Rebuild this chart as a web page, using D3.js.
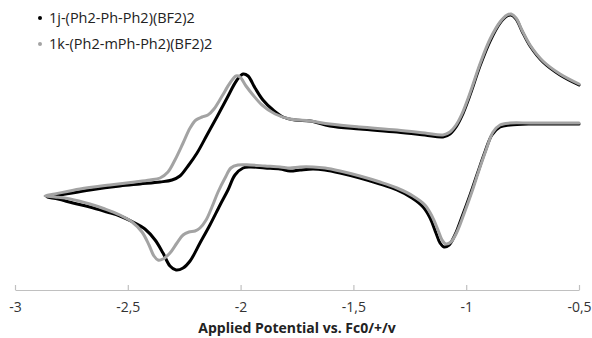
<!DOCTYPE html>
<html><head><meta charset="utf-8">
<script src="https://cdn.jsdelivr.net/npm/d3@7"></script>
<style>html,body{margin:0;padding:0;background:#fff}svg{display:block}</style>
</head><body>
<script>
const seriesNames = ["1j-(Ph2-Ph-Ph2)(BF2)2", "1k-(Ph2-mPh-Ph2)(BF2)2"];
const seriesColors = ["#000000", "#a3a3a3"];
const tickValues = [-3, -2.5, -2, -1.5, -1, -0.5];
const tickLabels = ["-3", "-2,5", "-2", "-1,5", "-1", "-0,5"];
const xTitle = "Applied Potential vs. Fc0/+/v";

// potential (V) and current (arbitrary units), series 1j
const pot1j = [-0.5,-0.606,-0.717,-0.806,-0.850,-0.886,-0.917,-0.948,-0.983,-1.019,-1.050,-1.076,-1.098,-1.116,-1.134,-1.160,-1.191,-1.240,-1.307,-1.382,-1.471,-1.559,-1.626,-1.679,-1.737,-1.781,-1.825,-1.892,-1.958,-1.989,-2.025,-2.056,-2.091,-2.136,-2.180,-2.224,-2.255,-2.286,-2.313,-2.344,-2.379,-2.424,-2.477,-2.535,-2.592,-2.668,-2.743,-2.809,-2.858,
 -2.801,-2.668,-2.535,-2.446,-2.357,-2.304,-2.269,-2.233,-2.193,-2.149,-2.105,-2.060,-2.016,-1.989,-1.967,-1.936,-1.901,-1.856,-1.812,-1.759,-1.692,-1.604,-1.471,-1.307,-1.183,-1.103,-1.072,-1.045,-1.019,-0.983,-0.939,-0.894,-0.850,-0.819,-0.801,-0.779,-0.753,-0.717,-0.660,-0.584,-0.5];
const cur1j = [7.6,7.6,7.6,7.5,7.3,6.5,4.8,2.8,0.5,-1.7,-3.5,-4.5,-4.7,-4.3,-3.3,-1.8,-0.7,0.2,1.0,1.6,2.2,2.7,3.0,3.1,3.0,2.9,3.1,3.2,3.3,3.2,2.5,1.0,-0.5,-2.5,-4.3,-6.1,-6.8,-7.0,-6.6,-5.3,-4.0,-2.9,-2.2,-1.6,-1.2,-0.7,-0.3,0.1,0.3,
 0.5,1.0,1.4,1.6,1.8,2.0,2.4,3.4,4.7,6.5,8.3,10.2,12.0,12.6,12.4,11.2,10.0,9.0,8.3,8.0,7.9,7.4,7.1,6.8,6.5,6.3,6.6,7.3,8.4,10.5,13.4,15.9,17.7,18.4,18.5,18.1,16.9,15.4,13.8,12.5,11.5];

// series 1k
const pot1k = [-0.5,-0.606,-0.717,-0.806,-0.850,-0.881,-0.912,-0.943,-0.975,-1.010,-1.041,-1.068,-1.090,-1.107,-1.125,-1.152,-1.183,-1.236,-1.307,-1.382,-1.471,-1.559,-1.626,-1.679,-1.737,-1.781,-1.825,-1.892,-1.958,-2.012,-2.043,-2.069,-2.100,-2.127,-2.153,-2.180,-2.202,-2.229,-2.255,-2.282,-2.313,-2.344,-2.366,-2.384,-2.406,-2.437,-2.481,-2.535,-2.601,-2.668,-2.756,-2.823,-2.867,
 -2.823,-2.712,-2.579,-2.468,-2.402,-2.357,-2.322,-2.291,-2.255,-2.224,-2.198,-2.171,-2.145,-2.118,-2.082,-2.047,-2.020,-2.003,-1.976,-1.945,-1.905,-1.847,-1.781,-1.692,-1.604,-1.471,-1.307,-1.183,-1.103,-1.072,-1.045,-1.019,-0.983,-0.939,-0.894,-0.850,-0.819,-0.801,-0.779,-0.753,-0.717,-0.660,-0.584,-0.5];
const cur1k = [7.7,7.7,7.7,7.7,7.5,6.8,5.0,3.0,0.8,-1.4,-3.2,-4.2,-4.4,-4.0,-3.0,-1.6,-0.5,0.4,1.2,1.8,2.4,2.9,3.2,3.3,3.3,3.2,3.3,3.4,3.5,3.5,3.2,2.2,0.8,-0.7,-2.0,-2.8,-3.1,-3.2,-3.5,-4.3,-5.3,-5.9,-6.0,-5.6,-4.5,-3.2,-2.2,-1.5,-0.9,-0.4,0.1,0.3,0.4,
 0.6,1.1,1.5,1.8,2.0,2.2,2.8,4.0,5.7,7.2,8.0,8.3,8.5,9.1,10.4,11.7,12.4,12.3,11.4,10.5,9.5,8.6,8.1,7.9,7.6,7.3,7.0,6.7,6.5,6.8,7.5,8.6,10.7,13.6,16.1,17.8,18.5,18.6,18.2,17.0,15.5,13.9,12.6,11.6];

const W = 592, H = 338;
const font = "Open Sans, Liberation Sans, sans-serif";
const svg = d3.select("body").append("svg").attr("width", W).attr("height", H);
const x = d3.scaleLinear().domain([-3, -0.5]).range([15, 579]);
const y = d3.scaleLinear().domain([-9, 20]).range([290, 0]);

// axis
const ax = svg.append("g").attr("transform", "translate(0,290)")
  .call(d3.axisBottom(x).tickValues(tickValues).tickFormat((d,i) => tickLabels[i]).tickSizeInner(-5).tickSizeOuter(0).tickPadding(12));
ax.select(".domain").attr("stroke", "#c0c0c0").attr("stroke-width", 1.2);
ax.selectAll(".tick line").attr("stroke", "#c0c0c0").attr("stroke-width", 1.2);
ax.selectAll(".tick text").attr("font-family", font).attr("font-size", 14).attr("fill", "#333");

svg.append("text").attr("x", 297).attr("y", 333).attr("text-anchor", "middle")
  .attr("font-family", font).attr("font-weight", "bold").attr("font-size", 14).attr("fill", "#222")
  .text(xTitle);

const line = d3.line().x(d => x(d[0])).y(d => y(d[1])).curve(d3.curveCatmullRom.alpha(0.5));
const data = [d3.zip(pot1j, cur1j), d3.zip(pot1k, cur1k)];
svg.selectAll("path.series").data(data).join("path").attr("class", "series")
  .attr("d", line).attr("fill", "none").attr("stroke", (d,i) => seriesColors[i])
  .attr("stroke-width", 3).attr("stroke-linejoin", "round").attr("stroke-linecap", "round");

// legend
const lg = svg.append("g");
seriesNames.forEach((n, i) => {
  const yy = 18 + i * 26;
  lg.append("circle").attr("cx", 40).attr("cy", yy).attr("r", 2).attr("fill", seriesColors[i]);
  lg.append("text").attr("x", 49).attr("y", yy + 5).attr("font-family", font)
    .attr("font-size", 14.5).attr("fill", "#222").text(n);
});
</script>
</body></html>
